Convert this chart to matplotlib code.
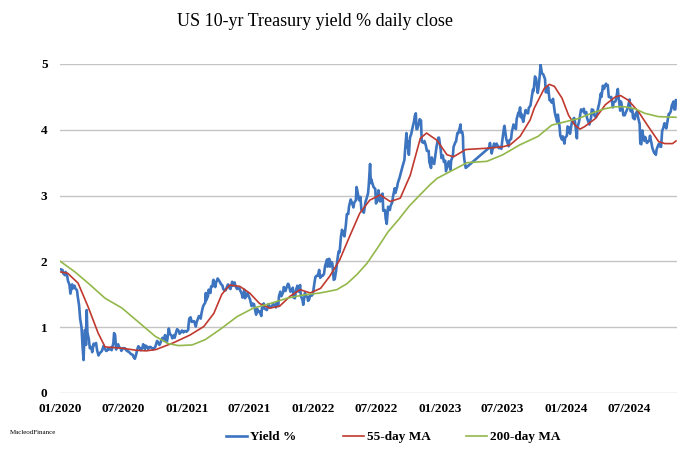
import matplotlib
matplotlib.use("Agg")
import matplotlib.pyplot as plt
import matplotlib.dates as mdates
import pandas as pd

# US 10-yr yield (roughly twice weekly)
yield_dates = [
    "2020-01-02", "2020-01-08", "2020-01-10", "2020-01-15", "2020-01-17", "2020-01-22", "2020-01-24", "2020-01-28",
    "2020-01-31", "2020-02-05", "2020-02-07", "2020-02-12", "2020-02-14", "2020-02-19", "2020-02-21", "2020-02-25",
    "2020-02-28", "2020-03-03", "2020-03-06", "2020-03-09", "2020-03-11", "2020-03-13", "2020-03-16", "2020-03-18",
    "2020-03-20", "2020-03-24", "2020-03-27", "2020-03-31", "2020-04-03", "2020-04-07", "2020-04-10", "2020-04-14",
    "2020-04-17", "2020-04-21", "2020-04-24", "2020-04-29", "2020-05-01", "2020-05-06", "2020-05-08", "2020-05-13",
    "2020-05-15", "2020-05-20", "2020-05-22", "2020-05-27", "2020-05-29", "2020-06-03", "2020-06-05", "2020-06-08",
    "2020-06-11", "2020-06-12", "2020-06-17", "2020-06-19", "2020-06-24", "2020-06-26", "2020-07-01", "2020-07-06",
    "2020-07-10", "2020-07-15", "2020-07-17", "2020-07-22", "2020-07-24", "2020-07-29", "2020-07-31", "2020-08-04",
    "2020-08-07", "2020-08-12", "2020-08-14", "2020-08-19", "2020-08-21", "2020-08-26", "2020-08-28", "2020-09-02",
    "2020-09-04", "2020-09-09", "2020-09-11", "2020-09-16", "2020-09-18", "2020-09-23", "2020-09-25", "2020-09-30",
    "2020-10-02", "2020-10-07", "2020-10-09", "2020-10-14", "2020-10-16", "2020-10-21", "2020-10-23", "2020-10-28",
    "2020-10-30", "2020-11-04", "2020-11-06", "2020-11-10", "2020-11-13", "2020-11-18", "2020-11-20", "2020-11-25",
    "2020-11-27", "2020-12-02", "2020-12-04", "2020-12-09", "2020-12-11", "2020-12-16", "2020-12-18", "2020-12-22",
    "2020-12-24", "2020-12-29", "2020-12-31",
    "2021-01-05", "2021-01-06", "2021-01-08", "2021-01-12", "2021-01-15", "2021-01-19", "2021-01-22", "2021-01-27",
    "2021-01-29", "2021-02-03", "2021-02-05", "2021-02-10", "2021-02-12", "2021-02-16", "2021-02-19", "2021-02-23",
    "2021-02-25", "2021-02-26", "2021-03-03", "2021-03-05", "2021-03-10", "2021-03-12", "2021-03-16", "2021-03-18",
    "2021-03-19", "2021-03-24", "2021-03-26", "2021-03-31", "2021-04-05", "2021-04-09", "2021-04-14", "2021-04-16",
    "2021-04-20", "2021-04-23", "2021-04-28", "2021-04-30", "2021-05-05", "2021-05-07", "2021-05-12", "2021-05-14",
    "2021-05-19", "2021-05-21", "2021-05-26", "2021-05-28", "2021-06-02", "2021-06-04", "2021-06-09", "2021-06-11",
    "2021-06-16", "2021-06-18", "2021-06-23", "2021-06-25", "2021-06-30", "2021-07-02", "2021-07-07", "2021-07-09",
    "2021-07-14", "2021-07-16", "2021-07-20", "2021-07-23", "2021-07-28", "2021-07-30", "2021-08-04", "2021-08-06",
    "2021-08-11", "2021-08-13", "2021-08-18", "2021-08-20", "2021-08-25", "2021-08-27", "2021-09-01", "2021-09-03",
    "2021-09-08", "2021-09-10", "2021-09-15", "2021-09-17", "2021-09-22", "2021-09-24", "2021-09-28", "2021-10-01",
    "2021-10-06", "2021-10-08", "2021-10-13", "2021-10-15", "2021-10-20", "2021-10-22", "2021-10-27", "2021-10-29",
    "2021-11-03", "2021-11-05", "2021-11-09", "2021-11-12", "2021-11-16", "2021-11-19", "2021-11-24", "2021-11-26",
    "2021-12-01", "2021-12-03", "2021-12-08", "2021-12-10", "2021-12-15", "2021-12-17", "2021-12-20", "2021-12-23",
    "2021-12-28", "2021-12-31",
    "2022-01-04", "2022-01-07", "2022-01-10", "2022-01-14", "2022-01-18", "2022-01-21", "2022-01-25", "2022-01-28",
    "2022-02-01", "2022-02-04", "2022-02-10", "2022-02-11", "2022-02-16", "2022-02-18", "2022-02-23", "2022-02-25",
    "2022-03-01", "2022-03-04", "2022-03-08", "2022-03-11", "2022-03-15", "2022-03-18", "2022-03-22", "2022-03-25",
    "2022-03-29", "2022-04-01", "2022-04-05", "2022-04-08", "2022-04-12", "2022-04-14", "2022-04-19", "2022-04-22",
    "2022-04-27", "2022-04-29", "2022-05-04", "2022-05-06", "2022-05-09", "2022-05-13", "2022-05-17", "2022-05-20",
    "2022-05-25", "2022-05-27", "2022-06-01", "2022-06-03", "2022-06-08", "2022-06-10", "2022-06-14", "2022-06-16",
    "2022-06-17", "2022-06-22", "2022-06-24", "2022-06-29", "2022-07-01", "2022-07-06", "2022-07-08", "2022-07-13",
    "2022-07-15", "2022-07-20", "2022-07-22", "2022-07-27", "2022-07-29", "2022-08-01", "2022-08-05", "2022-08-10",
    "2022-08-12", "2022-08-17", "2022-08-19", "2022-08-24", "2022-08-26", "2022-08-31", "2022-09-02", "2022-09-07",
    "2022-09-09", "2022-09-14", "2022-09-16", "2022-09-21", "2022-09-23", "2022-09-27", "2022-09-28", "2022-09-30",
    "2022-10-04", "2022-10-07", "2022-10-11", "2022-10-14", "2022-10-19", "2022-10-21", "2022-10-24", "2022-10-26",
    "2022-10-28", "2022-11-02", "2022-11-04", "2022-11-08", "2022-11-10", "2022-11-15", "2022-11-18", "2022-11-22",
    "2022-11-25", "2022-11-30", "2022-12-02", "2022-12-07", "2022-12-09", "2022-12-13", "2022-12-16", "2022-12-21",
    "2022-12-23", "2022-12-28", "2022-12-30",
    "2023-01-04", "2023-01-06", "2023-01-10", "2023-01-13", "2023-01-17", "2023-01-19", "2023-01-24", "2023-01-27",
    "2023-02-01", "2023-02-03", "2023-02-08", "2023-02-10", "2023-02-15", "2023-02-17", "2023-02-21", "2023-02-24",
    "2023-03-02", "2023-03-03", "2023-03-07", "2023-03-09", "2023-03-10", "2023-03-13", "2023-03-17",
    "2023-05-22", "2023-05-24", "2023-05-26", "2023-05-31", "2023-06-02", "2023-06-07", "2023-06-09", "2023-06-14",
    "2023-06-16", "2023-06-21", "2023-06-23", "2023-06-28", "2023-06-30", "2023-07-06", "2023-07-07", "2023-07-12",
    "2023-07-14", "2023-07-19", "2023-07-21", "2023-07-26", "2023-07-28", "2023-08-02", "2023-08-04", "2023-08-09",
    "2023-08-11", "2023-08-16", "2023-08-18", "2023-08-21", "2023-08-23", "2023-08-25", "2023-08-30", "2023-09-01",
    "2023-09-06", "2023-09-08", "2023-09-13", "2023-09-15", "2023-09-20", "2023-09-22", "2023-09-27", "2023-09-29",
    "2023-10-03", "2023-10-06", "2023-10-11", "2023-10-13", "2023-10-17", "2023-10-19", "2023-10-23", "2023-10-27",
    "2023-11-01", "2023-11-03", "2023-11-07", "2023-11-10", "2023-11-14", "2023-11-17", "2023-11-21", "2023-11-24",
    "2023-11-29", "2023-12-01", "2023-12-06", "2023-12-08", "2023-12-13", "2023-12-15", "2023-12-20", "2023-12-22",
    "2023-12-27", "2023-12-29",
    "2024-01-03", "2024-01-05", "2024-01-10", "2024-01-12", "2024-01-17", "2024-01-19", "2024-01-24", "2024-01-26",
    "2024-01-31", "2024-02-01", "2024-02-02", "2024-02-07", "2024-02-09", "2024-02-13", "2024-02-16", "2024-02-21",
    "2024-02-23", "2024-02-28", "2024-03-01", "2024-03-06", "2024-03-08", "2024-03-13", "2024-03-15", "2024-03-19",
    "2024-03-22", "2024-03-27", "2024-03-28", "2024-04-03", "2024-04-05", "2024-04-10", "2024-04-12", "2024-04-16",
    "2024-04-19", "2024-04-25", "2024-04-26", "2024-04-30", "2024-05-03", "2024-05-08", "2024-05-10", "2024-05-15",
    "2024-05-17", "2024-05-22", "2024-05-24", "2024-05-29", "2024-05-31", "2024-06-05", "2024-06-07", "2024-06-12",
    "2024-06-14", "2024-06-18", "2024-06-21", "2024-06-26", "2024-06-28", "2024-07-02", "2024-07-05", "2024-07-10",
    "2024-07-12", "2024-07-17", "2024-07-19", "2024-07-24", "2024-07-26", "2024-07-31", "2024-08-02", "2024-08-05",
    "2024-08-08", "2024-08-09", "2024-08-14", "2024-08-16", "2024-08-21", "2024-08-23", "2024-08-28", "2024-08-30",
    "2024-09-04", "2024-09-06", "2024-09-11", "2024-09-13", "2024-09-16", "2024-09-18", "2024-09-20", "2024-09-25",
    "2024-09-27", "2024-10-01", "2024-10-04", "2024-10-08", "2024-10-10", "2024-10-11", "2024-10-16", "2024-10-18",
    "2024-10-23", "2024-10-25", "2024-10-29", "2024-11-01", "2024-11-06", "2024-11-08", "2024-11-11", "2024-11-13",
]
yield_pct = [
    1.88, 1.87, 1.82, 1.79, 1.84, 1.77, 1.70, 1.65,
    1.51, 1.65, 1.59, 1.63, 1.59, 1.56, 1.47, 1.33,
    1.13, 1.00, 0.71, 0.50, 0.82, 0.96, 0.73, 1.26,
    0.92, 0.82, 0.68, 0.70, 0.62, 0.75, 0.73, 0.76,
    0.65, 0.57, 0.60, 0.63, 0.64, 0.72, 0.69, 0.64,
    0.64, 0.68, 0.66, 0.69, 0.65, 0.76, 0.91, 0.88,
    0.66, 0.71, 0.74, 0.70, 0.68, 0.64, 0.68, 0.68,
    0.65, 0.63, 0.63, 0.60, 0.59, 0.58, 0.55, 0.52,
    0.57, 0.68, 0.71, 0.68, 0.65, 0.69, 0.74, 0.67,
    0.72, 0.70, 0.67, 0.70, 0.70, 0.68, 0.66, 0.69,
    0.70, 0.79, 0.78, 0.73, 0.75, 0.82, 0.84, 0.79,
    0.88, 0.77, 0.82, 0.98, 0.90, 0.87, 0.83, 0.88,
    0.84, 0.94, 0.97, 0.94, 0.90, 0.93, 0.95, 0.92,
    0.94, 0.94, 0.93,
    0.96, 1.04, 1.13, 1.15, 1.08, 1.09, 1.09, 1.01,
    1.07, 1.14, 1.17, 1.13, 1.20, 1.30, 1.34, 1.37,
    1.52, 1.41, 1.47, 1.57, 1.52, 1.62, 1.62, 1.71,
    1.72, 1.61, 1.67, 1.74, 1.70, 1.66, 1.63, 1.58,
    1.56, 1.56, 1.63, 1.65, 1.59, 1.58, 1.69, 1.63,
    1.68, 1.63, 1.58, 1.59, 1.59, 1.56, 1.50, 1.45,
    1.57, 1.44, 1.49, 1.52, 1.45, 1.43, 1.32, 1.36,
    1.35, 1.29, 1.19, 1.28, 1.23, 1.24, 1.17, 1.30,
    1.36, 1.28, 1.27, 1.26, 1.35, 1.31, 1.30, 1.32,
    1.35, 1.34, 1.30, 1.37, 1.32, 1.47, 1.54, 1.47,
    1.53, 1.61, 1.55, 1.59, 1.66, 1.65, 1.54, 1.55,
    1.60, 1.45, 1.44, 1.56, 1.63, 1.54, 1.64, 1.48,
    1.41, 1.34, 1.52, 1.48, 1.46, 1.40, 1.42, 1.49,
    1.48, 1.51,
    1.66, 1.76, 1.78, 1.78, 1.87, 1.75, 1.78, 1.78,
    1.81, 1.93, 2.03, 1.92, 2.04, 1.92, 1.99, 1.97,
    1.72, 1.73, 1.86, 2.00, 2.15, 2.14, 2.38, 2.48,
    2.41, 2.38, 2.55, 2.72, 2.72, 2.83, 2.94, 2.90,
    2.82, 2.89, 2.93, 3.13, 3.05, 2.93, 2.98, 2.78,
    2.75, 2.74, 2.91, 2.94, 3.03, 3.15, 3.48, 3.19,
    3.25, 3.16, 3.13, 3.10, 2.88, 2.93, 3.08, 2.91,
    2.92, 3.03, 2.77, 2.78, 2.65, 2.57, 2.83, 2.78,
    2.84, 2.90, 2.98, 3.11, 3.04, 3.13, 3.19, 3.27,
    3.31, 3.41, 3.45, 3.54, 3.69, 3.95, 3.73, 3.83,
    3.62, 3.88, 3.94, 4.02, 4.13, 4.21, 4.25, 4.01,
    4.01, 4.10, 4.16, 4.14, 3.82, 3.80, 3.83, 3.76,
    3.68, 3.68, 3.51, 3.42, 3.58, 3.50, 3.48, 3.68,
    3.75, 3.88, 3.88,
    3.69, 3.57, 3.61, 3.51, 3.53, 3.37, 3.46, 3.52,
    3.39, 3.53, 3.61, 3.74, 3.81, 3.82, 3.95, 3.95,
    4.08, 3.96, 3.97, 3.90, 3.70, 3.55, 3.42,
    3.72, 3.74, 3.80, 3.64, 3.69, 3.79, 3.74, 3.79,
    3.77, 3.72, 3.74, 3.71, 3.81, 4.05, 4.06, 3.86,
    3.83, 3.75, 3.84, 3.86, 3.96, 4.08, 4.05, 4.01,
    4.16, 4.26, 4.25, 4.34, 4.19, 4.24, 4.12, 4.18,
    4.30, 4.26, 4.25, 4.33, 4.37, 4.44, 4.61, 4.59,
    4.81, 4.78, 4.56, 4.63, 4.84, 4.99, 4.86, 4.84,
    4.77, 4.57, 4.57, 4.65, 4.45, 4.44, 4.41, 4.47,
    4.27, 4.22, 4.12, 4.23, 4.04, 3.91, 3.85, 3.90,
    3.79, 3.88,
    3.91, 4.05, 4.03, 3.94, 4.10, 4.14, 4.18, 4.14,
    3.91, 3.87, 4.02, 4.12, 4.18, 4.31, 4.28, 4.32,
    4.25, 4.27, 4.18, 4.11, 4.08, 4.19, 4.31, 4.30,
    4.22, 4.19, 4.20, 4.35, 4.39, 4.55, 4.50, 4.67,
    4.62, 4.70, 4.67, 4.68, 4.50, 4.49, 4.50, 4.34,
    4.42, 4.43, 4.46, 4.62, 4.51, 4.29, 4.43, 4.31,
    4.22, 4.22, 4.26, 4.32, 4.36, 4.46, 4.28, 4.30,
    4.18, 4.16, 4.24, 4.28, 4.20, 4.09, 3.79, 3.78,
    3.99, 3.94, 3.83, 3.89, 3.80, 3.81, 3.84, 3.91,
    3.77, 3.72, 3.65, 3.65, 3.62, 3.70, 3.73, 3.79,
    3.75, 3.74, 3.98, 4.04, 4.09, 4.10, 4.02, 4.08,
    4.24, 4.24, 4.28, 4.37, 4.43, 4.31, 4.31, 4.45,
]

# 55-day moving average
ma55_dates = [
    "2020-01-02", "2020-01-23", "2020-02-22", "2020-03-22", "2020-04-20", "2020-05-10", "2020-06-29", "2020-08-07",
    "2020-09-05", "2020-10-04", "2020-11-22", "2021-01-10", "2021-02-19", "2021-03-20", "2021-04-12", "2021-05-05",
    "2021-06-03", "2021-07-01", "2021-07-30", "2021-08-28", "2021-09-26", "2021-10-26", "2021-11-24", "2021-12-23",
    "2022-01-22", "2022-02-17", "2022-03-18", "2022-04-16", "2022-05-15", "2022-06-13", "2022-07-13", "2022-08-11",
    "2022-09-09", "2022-10-08", "2022-11-06", "2022-11-24", "2022-12-24", "2023-01-22", "2023-02-10", "2023-03-17",
    "2023-05-19", "2023-07-01", "2023-07-23", "2023-08-21", "2023-09-19", "2023-10-01", "2023-10-30", "2023-11-13",
    "2023-11-28", "2023-12-20", "2024-01-08", "2024-01-26", "2024-02-10", "2024-02-24", "2024-03-25", "2024-04-23",
    "2024-05-22", "2024-06-06", "2024-06-28", "2024-07-27", "2024-08-25", "2024-09-24", "2024-10-12", "2024-11-03",
    "2024-11-13",
]
ma55 = [
    1.84, 1.82, 1.67, 1.31, 0.91, 0.70, 0.68, 0.65,
    0.64, 0.66, 0.76, 0.88, 1.01, 1.21, 1.50, 1.64,
    1.62, 1.52, 1.36, 1.29, 1.32, 1.47, 1.57, 1.52,
    1.59, 1.77, 2.02, 2.38, 2.73, 2.93, 3.01, 2.91,
    2.96, 3.31, 3.87, 3.95, 3.84, 3.62, 3.59, 3.70,
    3.72, 3.74, 3.77, 3.90, 4.15, 4.33, 4.63, 4.69,
    4.66, 4.48, 4.22, 4.07, 4.01, 4.05, 4.17, 4.38,
    4.50, 4.52, 4.45, 4.28, 4.05, 3.82, 3.79, 3.79,
    3.83,
]

# 200-day moving average
ma200_dates = [
    "2020-01-02", "2020-02-13", "2020-03-22", "2020-05-10", "2020-06-28", "2020-08-14", "2020-10-02", "2020-11-09",
    "2020-12-08", "2021-01-16", "2021-02-23", "2021-04-08", "2021-05-26", "2021-07-12", "2021-08-30", "2021-10-17",
    "2021-12-04", "2022-01-21", "2022-03-10", "2022-04-08", "2022-05-07", "2022-06-05", "2022-07-05", "2022-08-05",
    "2022-09-05", "2022-10-05", "2022-11-05", "2022-12-05", "2022-12-24", "2023-02-09", "2023-03-21", "2023-05-17",
    "2023-07-02", "2023-08-20", "2023-10-12", "2023-11-20", "2023-12-28", "2024-02-05", "2024-03-14", "2024-04-22",
    "2024-05-21", "2024-06-18", "2024-07-17", "2024-08-15", "2024-09-23", "2024-11-13",
]
ma200 = [
    2.00, 1.84, 1.67, 1.44, 1.29, 1.08, 0.86, 0.75,
    0.72, 0.73, 0.81, 0.97, 1.16, 1.29, 1.36, 1.44,
    1.49, 1.52, 1.57, 1.66, 1.80, 1.97, 2.20, 2.45,
    2.64, 2.84, 3.01, 3.17, 3.26, 3.39, 3.50, 3.52,
    3.62, 3.77, 3.90, 4.07, 4.12, 4.17, 4.25, 4.32,
    4.35, 4.35, 4.32, 4.25, 4.20, 4.19,
]

serif = "Liberation Serif"

fig = plt.figure(figsize=(6.9, 4.54), dpi=100)
ax = fig.add_axes([0.087, 0.1344, 0.8942, 0.7247])

l1, = ax.plot(pd.to_datetime(yield_dates), yield_pct, color="#3d74c0", lw=1.9, label="Yield %", zorder=3)
l2, = ax.plot(pd.to_datetime(ma55_dates), ma55, color="#c0392f", lw=1.2, label="55-day MA", zorder=4)
l3, = ax.plot(pd.to_datetime(ma200_dates), ma200, color="#93b84a", lw=1.2, label="200-day MA", zorder=4)

ax.set_ylim(0, 5)
ax.set_xlim(pd.Timestamp("2020-01-01"), pd.Timestamp("2024-11-16"))
ax.set_yticks([0, 1, 2, 3, 4, 5])
ax.xaxis.set_major_locator(mdates.MonthLocator(bymonth=[1, 7]))
ax.xaxis.set_major_formatter(mdates.DateFormatter("%m/%Y"))

ax.grid(axis="y", color="#c4c4c4", lw=1.0)
ax.set_axisbelow(True)
for s in ax.spines.values():
    s.set_visible(False)
ax.tick_params(length=0)
ax.tick_params(axis="y", pad=9)
ax.tick_params(axis="x", pad=7)
for lab in ax.get_xticklabels() + ax.get_yticklabels():
    lab.set_fontfamily(serif)
    lab.set_fontweight("bold")
    lab.set_fontsize(9.5)

fig.text(315 / 690, 1 - 22 / 454, "US 10-yr Treasury yield % daily close",
         ha="center", va="center", fontsize=13, family=serif)
fig.text(10 / 690, 1 - 433 / 454, "MacleodFinance", ha="left", va="center",
         fontsize=5, family=serif)

# legend entries placed one by one, as in the original layout
legend_x = [226, 343, 466]
for line, x in zip([l1, l2, l3], legend_x):
    fig.legend(handles=[line], loc="center left", bbox_to_anchor=(x / 690, 1 - 437 / 454),
               frameon=False, borderpad=0, borderaxespad=0,
               prop={"family": serif, "weight": "bold", "size": 9.5},
               handlelength=1.6, handletextpad=0.2)

fig.savefig("out.png", dpi=100)
